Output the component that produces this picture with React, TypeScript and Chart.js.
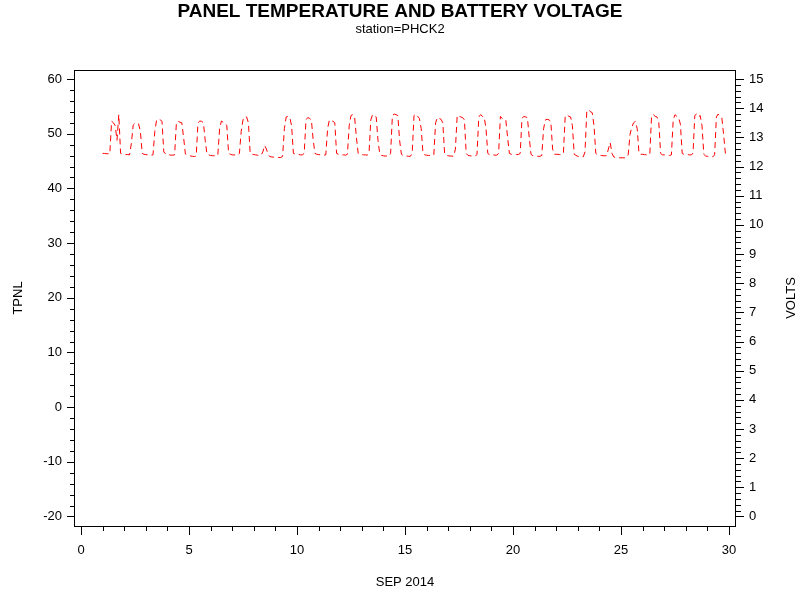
import { useEffect, useRef } from 'react';
import { Chart, registerables, type Plugin } from 'chart.js';

Chart.register(...registerables);

const chartTitle = 'PANEL TEMPERATURE AND BATTERY VOLTAGE';
const chartSubtitle = 'station=PHCK2';
const leftAxisTitle = 'TPNL';
const rightAxisTitle = 'VOLTS';
const xAxisTitle = 'SEP 2014';

const dayTicks = [0, 5, 10, 15, 20, 25, 30];
const tpnlTicks = [-20, -10, 0, 10, 20, 30, 40, 50, 60];
const voltTicks = [0, 1, 2, 3, 4, 5, 6, 7, 8, 9, 10, 11, 12, 13, 14, 15];

// readings every 2 hours (00h .. 22h), starting Sep 1 00h
const firstSampleDay = 1;
const samplesPerDay = 12;

const voltsWeek1 = [
  12.45, 12.45, 12.44, 12.44, 12.43, 13.55, 13.5, 13.4, 12.9, 13.78, 12.45, 12.43,
  12.42, 12.41, 12.41, 12.4, 12.8, 13.42, 13.48, 13.5, 13.46, 13.2, 12.45, 12.42,
  12.41, 12.4, 12.4, 12.39, 12.4, 13.2, 13.6, 13.62, 13.6, 13.55, 12.5, 12.43,
  12.41, 12.4, 12.39, 12.39, 12.4, 13.5, 13.55, 13.52, 13.5, 13.0, 12.43, 12.4,
  12.37, 12.36, 12.35, 12.34, 12.36, 13.5, 13.56, 13.55, 13.5, 12.9, 12.42, 12.4,
  12.38, 12.37, 12.37, 12.36, 12.38, 13.3, 13.56, 13.52, 13.5, 13.4, 12.45, 12.42,
  12.4, 12.4, 12.39, 12.38, 12.45, 13.2, 13.6, 13.72, 13.7, 13.5, 12.45, 12.42,
];
const voltsWeek2 = [
  12.41, 12.4, 12.39, 12.38, 12.38, 12.5, 12.72, 12.6, 12.4, 12.34, 12.33, 12.32,
  12.32, 12.32, 12.31, 12.31, 12.35, 13.3, 13.7, 13.72, 13.68, 13.4, 12.45, 12.43,
  12.42, 12.41, 12.4, 12.4, 12.45, 13.6, 13.68, 13.65, 13.6, 12.9, 12.45, 12.42,
  12.41, 12.4, 12.4, 12.39, 12.4, 13.3, 13.6, 13.58, 13.55, 13.5, 12.45, 12.42,
  12.41, 12.4, 12.4, 12.39, 12.42, 13.4, 13.75, 13.78, 13.7, 13.0, 12.45, 12.42,
  12.41, 12.4, 12.4, 12.39, 12.45, 13.6, 13.78, 13.75, 13.7, 12.9, 12.42, 12.38,
  12.37, 12.36, 12.36, 12.35, 12.45, 13.75, 13.8, 13.78, 13.75, 12.9, 12.42, 12.38,
];
const voltsWeek3 = [
  12.36, 12.36, 12.35, 12.35, 12.45, 13.75, 13.8, 13.72, 13.65, 13.3, 12.45, 12.4,
  12.39, 12.38, 12.38, 12.37, 12.4, 13.5, 13.68, 13.65, 13.62, 13.5, 12.45, 12.38,
  12.37, 12.36, 12.36, 12.35, 12.6, 13.75, 13.72, 13.7, 13.68, 13.6, 12.45, 12.38,
  12.37, 12.36, 12.36, 12.35, 12.42, 13.7, 13.78, 13.72, 13.7, 13.3, 12.45, 12.4,
  12.4, 12.4, 12.39, 12.39, 12.45, 13.72, 13.65, 13.62, 13.6, 13.0, 12.45, 12.42,
  12.42, 12.42, 12.41, 12.41, 12.45, 13.65, 13.72, 13.7, 13.68, 13.0, 12.42, 12.37,
  12.36, 12.36, 12.35, 12.35, 12.38, 13.3, 13.6, 13.62, 13.6, 13.55, 12.6, 12.42,
];
const voltsWeek4 = [
  12.42, 12.42, 12.41, 12.41, 12.45, 13.72, 13.78, 13.72, 13.7, 13.4, 12.42, 12.38,
  12.35, 12.34, 12.33, 12.33, 12.5, 13.9, 13.95, 13.88, 13.85, 13.4, 12.45, 12.4,
  12.39, 12.38, 12.37, 12.37, 12.37, 12.6, 12.82, 12.45, 12.33, 12.31, 12.31, 12.3,
  12.3, 12.3, 12.3, 12.3, 12.4, 13.1, 13.35, 13.5, 13.55, 13.3, 12.45, 12.42,
  12.42, 12.41, 12.4, 12.4, 12.42, 13.75, 13.78, 13.72, 13.7, 13.5, 12.45, 12.4,
  12.4, 12.39, 12.39, 12.38, 12.4, 13.6, 13.78, 13.72, 13.68, 13.45, 12.45, 12.42,
  12.42, 12.41, 12.4, 12.4, 12.45, 13.75, 13.8, 13.7, 13.75, 13.4, 12.42, 12.36,
  12.35, 12.34, 12.34, 12.33, 12.4, 13.7, 13.8, 13.72, 13.68, 13.1, 12.45, 12.43,
  12.42,
];

const FONT = '"Liberation Sans", Arial, sans-serif';
const tickFont = { family: FONT, size: 13 };

const framePlugin: Plugin<'line'> = {
  id: 'sasFrame',
  afterDraw(chart) {
    const { ctx, chartArea: a, scales } = chart;
    const xs = scales.x;
    const ys = scales.y;
    const vs = scales.y1;
    ctx.save();
    ctx.strokeStyle = '#000';
    ctx.lineWidth = 1;
    ctx.strokeRect(a.left + 0.5, a.top + 0.5, a.right - a.left - 1, a.bottom - a.top);

    ctx.beginPath();
    for (let v = -20; v <= 60; v += 2) {
      const py = Math.round(ys.getPixelForValue(v)) + 0.5;
      const len = v % 10 === 0 ? 7 : 4;
      ctx.moveTo(a.left - len, py);
      ctx.lineTo(a.left, py);
    }
    for (let i = 0; i <= 75; i += 1) {
      const py = Math.round(vs.getPixelForValue(i / 5)) + 0.5;
      const len = i % 5 === 0 ? 8 : 5;
      ctx.moveTo(a.right, py);
      ctx.lineTo(a.right + len, py);
    }
    for (let d = 0; d <= 30; d += 1) {
      const px = Math.round(xs.getPixelForValue(d)) + 0.5;
      const len = d % 5 === 0 ? 9 : 5;
      ctx.moveTo(px, a.bottom);
      ctx.lineTo(px, a.bottom + len);
    }
    ctx.stroke();

    ctx.fillStyle = '#000';
    ctx.textAlign = 'center';
    ctx.textBaseline = 'alphabetic';

    ctx.font = `bold 19px ${FONT}`;
    ctx.fillText(chartTitle, 400, 17);

    ctx.font = `13px ${FONT}`;
    ctx.fillText(chartSubtitle, 400, 33);
    ctx.fillText(xAxisTitle, (a.left + a.right) / 2, 586);

    const midY = (a.top + a.bottom) / 2;
    ctx.textBaseline = 'middle';
    ctx.save();
    ctx.translate(18, midY);
    ctx.rotate(-Math.PI / 2);
    ctx.fillText(leftAxisTitle, 0, 0);
    ctx.restore();
    ctx.save();
    ctx.translate(791, midY);
    ctx.rotate(-Math.PI / 2);
    ctx.fillText(rightAxisTitle, 0, 0);
    ctx.restore();
    ctx.restore();
  },
};

export default function App() {
  const canvasRef = useRef<HTMLCanvasElement>(null);

  useEffect(() => {
    if (canvasRef.current === null) return undefined;
    const volts = [...voltsWeek1, ...voltsWeek2, ...voltsWeek3, ...voltsWeek4];
    const points = volts.map((v, i) => ({ x: firstSampleDay + i / samplesPerDay, y: v }));

    const chart = new Chart(canvasRef.current, {
      type: 'line',
      data: {
        datasets: [
          {
            label: 'VOLTS',
            data: points,
            xAxisID: 'x',
            yAxisID: 'y1',
            borderColor: '#ff0000',
            borderWidth: 1,
            borderDash: [6, 4],
            pointRadius: 0,
            tension: 0,
            fill: false,
          },
        ],
      },
      options: {
        animation: false,
        responsive: false,
        layout: { padding: { top: 70, left: 0, right: 0, bottom: 0 } },
        plugins: {
          legend: { display: false },
          title: { display: false },
          tooltip: { enabled: false },
        },
        scales: {
          x: {
            type: 'linear',
            position: 'bottom',
            min: -0.324,
            max: 30.324,
            afterBuildTicks: (s) => { s.ticks = dayTicks.map((value) => ({ value })); },
            afterFit: (s) => { s.height = 74; },
            grid: { display: false, drawTicks: false },
            border: { display: false },
            ticks: { padding: 17, font: tickFont, color: '#000', maxRotation: 0, autoSkip: false },
          },
          y: {
            type: 'linear',
            position: 'left',
            min: -21.74,
            max: 61.65,
            afterBuildTicks: (s) => { s.ticks = tpnlTicks.map((value) => ({ value })); },
            afterFit: (s) => { s.width = 74; },
            grid: { display: false, drawTicks: false },
            border: { display: false },
            ticks: { padding: 12, font: tickFont, color: '#000', autoSkip: false },
          },
          y1: {
            type: 'linear',
            position: 'right',
            min: -0.326,
            max: 15.31,
            afterBuildTicks: (s) => { s.ticks = voltTicks.map((value) => ({ value })); },
            afterFit: (s) => { s.width = 64; },
            grid: { display: false, drawTicks: false },
            border: { display: false },
            ticks: { padding: 13, font: tickFont, color: '#000', autoSkip: false },
          },
        },
      },
      plugins: [framePlugin],
    });
    return () => { chart.destroy(); };
  }, []);

  return (
    <div style={{ position: 'absolute', left: 0, top: 0, width: 800, height: 600, background: '#fff' }}>
      <canvas ref={canvasRef} width={800} height={600} style={{ display: 'block' }} />
    </div>
  );
}
